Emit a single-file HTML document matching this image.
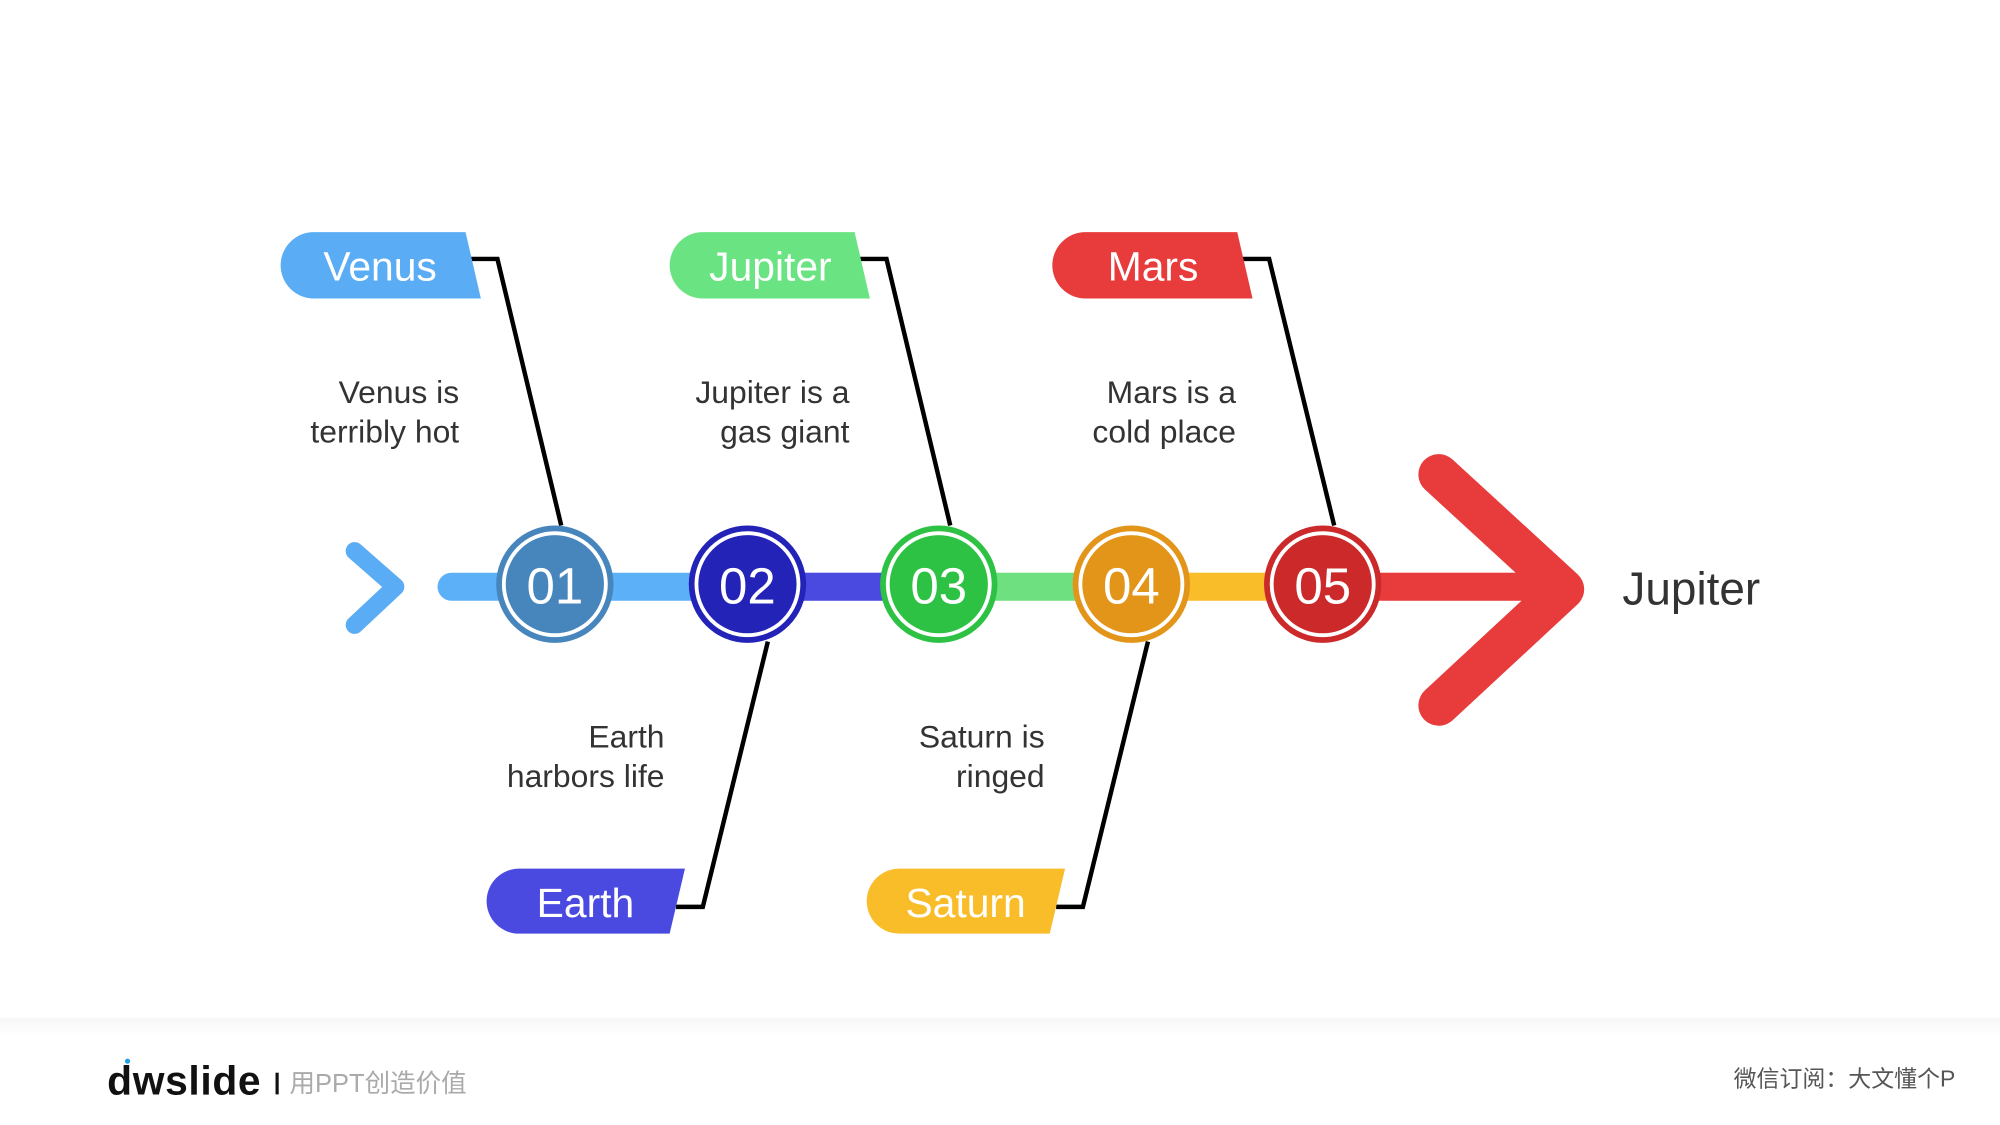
<!DOCTYPE html>
<html><head><meta charset="utf-8"><style>
html,body{margin:0;padding:0;background:#fff;}
svg{display:block;}
text{font-family:"Liberation Sans","Noto Sans CJK SC",sans-serif;}
</style></head><body>
<svg width="2000" height="1125" viewBox="0 0 1568 882" xmlns="http://www.w3.org/2000/svg">
<defs><linearGradient id="fg" x1="0" y1="0" x2="0" y2="1"><stop offset="0" stop-color="#f7f7f7"/><stop offset="1" stop-color="#ffffff"/></linearGradient></defs>
<rect x="0" y="0" width="1568" height="882" fill="#fff"/>
<rect x="0" y="798" width="1568" height="14" fill="url(#fg)"/>
<polyline points="278,432 310,460 278,490" fill="none" stroke="#5aacf5" stroke-width="14" stroke-linecap="round" stroke-linejoin="round"/>
<line x1="354" y1="460" x2="585" y2="460" stroke="#5cb0f7" stroke-width="22" stroke-linecap="round"/>
<rect x="585" y="449" width="150" height="22" fill="#4a4ae0"/>
<rect x="735" y="449" width="150" height="22" fill="#6ee07f"/>
<rect x="885" y="449" width="150" height="22" fill="#f9bd2a"/>
<rect x="1035" y="449" width="175" height="22" fill="#e83c3c"/>
<polyline points="1128,372 1226,462 1128,553" fill="none" stroke="#e83c3c" stroke-width="32" stroke-linecap="round" stroke-linejoin="round"/>
<g fill="none" stroke="#000" stroke-width="3.5">
<polyline points="368,203 390,203 440,412"/>
<polyline points="673,203 695,203 745,412"/>
<polyline points="973,203 995,203 1046,412"/>
<polyline points="530,711 551,711 602,503"/>
<polyline points="828,711 849,711 900,503"/>
</g>
<g font-size="40" fill="#fff" text-anchor="middle">
<circle cx="435" cy="458" r="46" fill="#4785bd"/><circle cx="435" cy="458" r="40" fill="none" stroke="#fff" stroke-width="3"/><text x="435" y="473">01</text>
<circle cx="586" cy="458" r="46" fill="#2323b8"/><circle cx="586" cy="458" r="40" fill="none" stroke="#fff" stroke-width="3"/><text x="586" y="473">02</text>
<circle cx="736" cy="458" r="46" fill="#2ec244"/><circle cx="736" cy="458" r="40" fill="none" stroke="#fff" stroke-width="3"/><text x="736" y="473">03</text>
<circle cx="887" cy="458" r="46" fill="#e3951a"/><circle cx="887" cy="458" r="40" fill="none" stroke="#fff" stroke-width="3"/><text x="887" y="473">04</text>
<circle cx="1037" cy="458" r="46" fill="#cc2a2a"/><circle cx="1037" cy="458" r="40" fill="none" stroke="#fff" stroke-width="3"/><text x="1037" y="473">05</text>
</g>
<path d="M246,182 L365,182 L377,234 L246,234 A26,26 0 0 1 246,182Z" fill="#5aacf5"/>
<path d="M551,182 L670,182 L682,234 L551,234 A26,26 0 0 1 551,182Z" fill="#6ae482"/>
<path d="M851,182 L970,182 L982,234 L851,234 A26,26 0 0 1 851,182Z" fill="#e83c3c"/>
<path d="M407,681 L537,681 L525,732 L407,732 A25.5,25.5 0 0 1 407,681Z" fill="#4a4ae0"/>
<path d="M705,681 L835,681 L823,732 L705,732 A25.5,25.5 0 0 1 705,681Z" fill="#f9bd2a"/>
<g font-size="32" fill="#fff" text-anchor="middle">
<text x="298" y="220">Venus</text>
<text x="604" y="220">Jupiter</text>
<text x="904" y="220">Mars</text>
<text x="459" y="719">Earth</text>
<text x="757" y="719">Saturn</text>
</g>
<g font-size="25" fill="#333" text-anchor="end">
<text x="360" y="316">Venus is</text><text x="360" y="347">terribly hot</text>
<text x="666" y="316">Jupiter is a</text><text x="666" y="347">gas giant</text>
<text x="969" y="316">Mars is a</text><text x="969" y="347">cold place</text>
<text x="521" y="586">Earth</text><text x="521" y="617">harbors life</text>
<text x="819" y="586">Saturn is</text><text x="819" y="617">ringed</text>
</g>
<text x="1272" y="474" font-size="36" fill="#333">Jupiter</text>
<circle cx="100" cy="832" r="2" fill="#1ea0e6"/>
<text x="84" y="858" font-size="32" font-weight="bold" fill="#111" letter-spacing="0.5">dwslide</text>
<rect x="216" y="841" width="2.5" height="17" fill="#111"/>
<text x="227" y="856" font-size="20" fill="#aaa">用PPT创造价值</text>
<text x="1533" y="852" font-size="18" fill="#555" text-anchor="end">微信订阅：大文懂个P</text>
</svg>
</body></html>
